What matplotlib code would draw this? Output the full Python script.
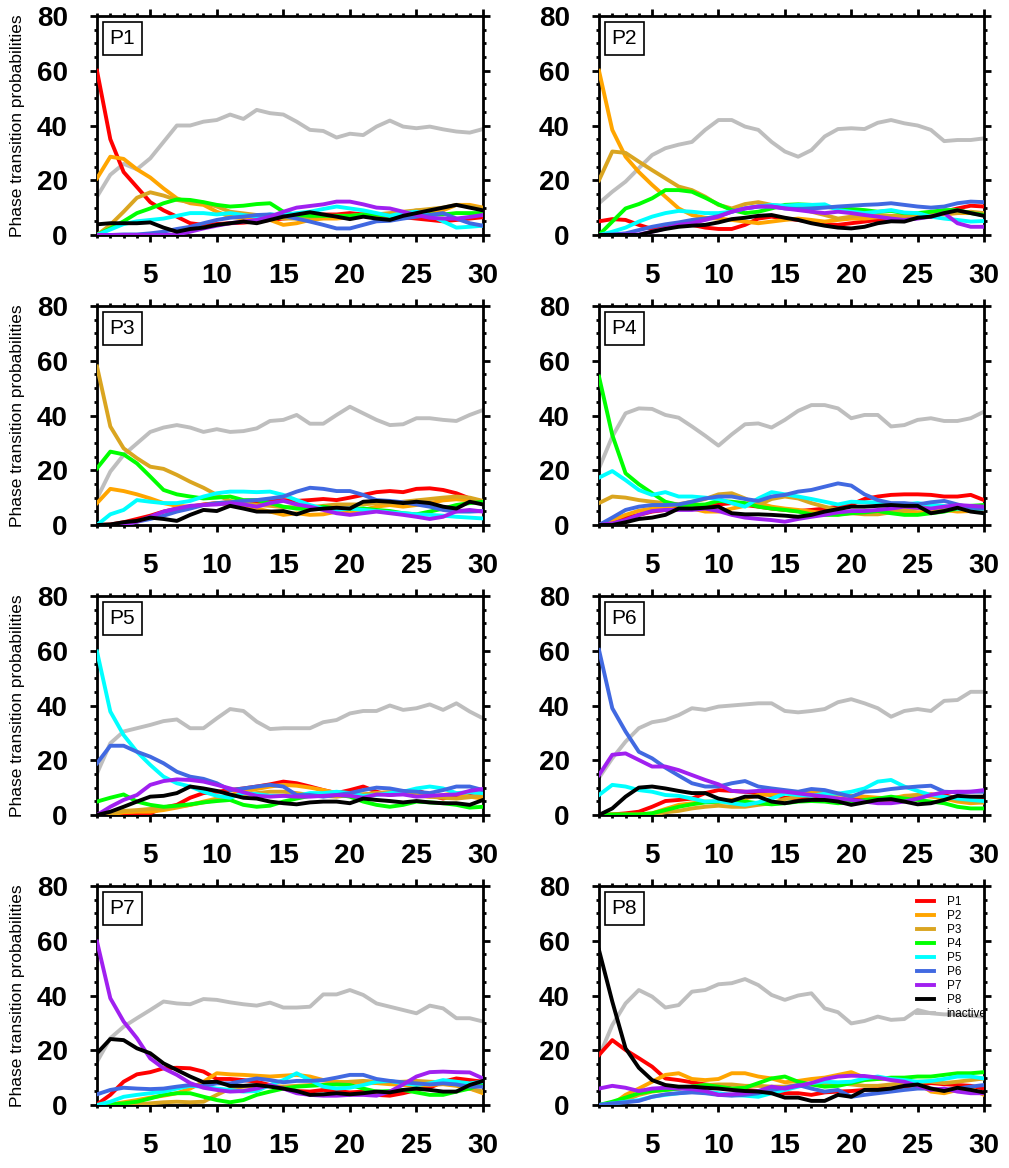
import matplotlib
matplotlib.use("Agg")
import matplotlib.pyplot as plt
from matplotlib.ticker import MultipleLocator

plt.rcParams['font.family'] = ['Liberation Sans', 'DejaVu Sans']

# jours 1..30
days = list(range(1, 31))

series_names = ["P1", "P2", "P3", "P4", "P5", "P6", "P7", "P8"]
series_colors = ["#FF0000", "#FFA500", "#DAA520", "#00FF00", "#00FFFF", "#4169E1", "#A020F0", "#000000"]
inactive_color = "#BEBEBE"

# ---- panneau P1 ----
p1_p1 = [60, 35, 23, 17.5, 12, 9, 6.7, 4.3, 3.7, 4, 4.3, 4.5, 5, 5.5, 6, 6.5, 7, 7.5, 7.5, 8, 7.5, 7, 7, 6.5, 6, 5.5, 5, 5.5, 6, 6.5]
p1_p2 = [20.7, 28.6, 27.8, 24, 21, 17, 13.4, 11.6, 11, 8.5, 6.7, 6, 6.2, 5.5, 3.7, 4.3, 5.5, 6, 6, 6.5, 7, 7, 7.5, 8, 9, 8.5, 9, 11, 11, 10]
p1_p3 = [0, 3.7, 8.5, 13.6, 15.6, 14.4, 12.8, 12, 11.8, 10.4, 8.5, 7.9, 7.3, 7.3, 6, 6, 6.5, 7, 7, 7, 7.5, 7.5, 8, 8.5, 9, 9.5, 10, 11, 10.5, 9.7]
p1_p4 = [0, 2.4, 5, 8, 9.7, 11.6, 13, 12.8, 12, 11, 10.4, 10.7, 11.3, 11.6, 8.5, 7.3, 7, 7, 7, 7, 7.5, 7.5, 7, 7.5, 8, 7.5, 7.5, 8, 8, 8]
p1_p5 = [0, 2, 4, 5, 5.5, 6, 7, 8, 8, 7.5, 8, 7.3, 6.7, 7.5, 7.3, 8, 8.5, 9.5, 10.4, 9.7, 9, 8, 7, 8, 8.5, 7.3, 5, 2.7, 3, 3.4]
p1_p6 = [0, 0, 0.2, 0.2, 0.6, 1.2, 2.2, 3, 4.3, 5.5, 6.3, 6.7, 7.3, 7.5, 7, 6, 4.9, 3.7, 2.4, 2.4, 3.7, 5, 5.2, 6, 6.7, 7.3, 8, 6, 4.3, 3.4]
p1_p7 = [0, 0, 0, 0, 0, 0, 0.2, 1.2, 2.4, 3.4, 4.3, 4.9, 5.5, 6.7, 8.5, 10, 10.6, 11.2, 12.2, 12.2, 11.2, 10, 9.7, 8.5, 7.3, 6.3, 6, 6, 6.6, 7.3]
p1_p8 = [3.9, 4.3, 4.3, 4.3, 4.6, 2.7, 1.2, 2.2, 2.7, 3.7, 4.3, 4.9, 4.3, 5.5, 6.7, 7.5, 8.3, 7.5, 6.7, 5.8, 6.7, 6, 5.5, 7, 8, 9, 10, 11, 10, 9]
p1_inactive = [14, 22, 26, 24, 28, 34, 40, 40, 41.4, 42, 44, 42.4, 45.7, 44.5, 44, 41.4, 38.4, 38, 35.6, 37, 36.5, 39.6, 41.8, 39.6, 39, 39.6, 38.6, 37.8, 37.4, 38.7]

# ---- panneau P2 ----
p2_p1 = [5, 5.8, 5.5, 3.7, 2.2, 3, 4.3, 3.7, 2.7, 2.2, 2.2, 3.7, 6, 6.7, 6, 5.5, 4.9, 3.9, 3.7, 4.3, 4.9, 5.5, 5.5, 6, 6.7, 8, 8.5, 9.7, 10.7, 10.4]
p2_p2 = [60, 38.4, 28.6, 23, 18.3, 14, 9.7, 7.3, 6.3, 6, 5.5, 4.9, 4.3, 4.9, 5.5, 6, 5.5, 4.9, 5.5, 6, 6, 6.5, 6.5, 7, 7, 7.5, 7.5, 8, 8, 8]
p2_p3 = [20, 30.5, 30, 26.8, 23.7, 20.7, 17.7, 16.4, 14, 11, 9.7, 11.3, 12, 11, 10.4, 10, 8.5, 7.3, 6, 6.7, 7.3, 7.3, 7, 7, 7.5, 7.5, 8, 8, 8.5, 8]
p2_p4 = [0, 4.9, 9.7, 11.3, 13.4, 16.4, 16.4, 15.8, 13.6, 11.2, 9.1, 8, 8.5, 9.7, 11, 11.2, 11, 10.4, 9.7, 9.5, 9.1, 8.5, 8.8, 8, 8, 8.5, 9.1, 9.1, 8, 7.3]
p2_p5 = [0, 1.2, 2.7, 4.9, 6.7, 8, 8.8, 8.5, 8, 8, 8.5, 9.7, 10.4, 11, 10.7, 11, 11, 11.2, 9.1, 8.5, 8, 8.5, 9.1, 8.2, 8, 6.7, 6, 5.5, 4.9, 5.1]
p2_p6 = [0, 0.2, 0.6, 1.8, 3, 3.9, 4.6, 5.5, 6, 6.9, 8.5, 9.7, 10.4, 10.4, 9.7, 9.5, 9.7, 10, 10.4, 10.7, 11, 11.2, 11.6, 11, 10.4, 10, 10.4, 11.6, 12.2, 12]
p2_p7 = [0, 0, 0.2, 0.2, 1.2, 2.4, 3.7, 4.3, 5.5, 6.7, 8.5, 9.7, 10.4, 10.4, 9.7, 9.1, 8.5, 8, 8.5, 8, 7.3, 6.7, 6, 5.5, 6, 6.7, 8, 4.3, 3, 3]
p2_p8 = [0, 0, 0, 0, 1.2, 2.2, 3, 3.4, 3.7, 4.6, 5.8, 6.3, 7, 7.3, 6.3, 5.5, 4.3, 3.4, 2.7, 2.4, 3, 4.3, 5, 4.9, 6.3, 6.7, 8, 9, 8, 7]
p2_inactive = [11.6, 15.8, 19.5, 24.4, 29.2, 31.7, 33, 34, 38.4, 42, 42, 39.6, 38.4, 34, 30.5, 28.6, 31, 36, 38.7, 39, 38.7, 41, 42, 40.8, 40, 38.4, 34.3, 34.7, 34.7, 35.3]

# ---- panneau P3 ----
p3_p1 = [0, 0.2, 1, 2.2, 3.4, 4.9, 6, 6.7, 7.5, 8, 8.3, 8, 8.3, 8.8, 9.1, 8.8, 9.1, 9.5, 9.1, 10, 11, 12, 12.4, 12, 13.2, 13.4, 12.8, 11.6, 9.7, 8.5]
p3_p2 = [8, 13.2, 12.4, 11.2, 9.7, 8, 7, 6.7, 7.3, 8, 7.5, 7.3, 6, 4.9, 3.7, 4.3, 3.7, 3.9, 4.9, 4.3, 5.5, 6.7, 7.3, 6.7, 7.3, 8, 9, 9.4, 9, 8.5]
p3_p3 = [57.9, 36, 28, 24.4, 21.3, 20.5, 18.3, 15.8, 13.6, 11, 8.8, 8, 7.3, 7, 6.5, 6.5, 6.5, 7, 7.5, 7.5, 7.5, 8, 8, 8.5, 9, 9.5, 10, 10.4, 10, 8.8]
p3_p4 = [20.7, 26.8, 25.8, 22.5, 17.7, 12.8, 11.2, 10.4, 9.7, 10, 10.4, 9.1, 9.1, 8, 6.7, 6, 5.8, 6.7, 6, 5.8, 6, 5.5, 5.1, 4.3, 3.9, 4.9, 6, 7.3, 8, 8.5]
p3_p5 = [0, 3.9, 5.5, 9.1, 8.5, 8, 8, 8.8, 10.4, 11.6, 12.2, 12.2, 12, 12.2, 11, 9.1, 7.3, 6, 5.5, 6, 5.5, 5.1, 4.6, 4.3, 3.9, 3.7, 3.4, 3, 2.7, 2.4]
p3_p6 = [0, 0, 0.2, 1.2, 2.2, 3.4, 4.9, 6, 7.3, 8, 8.3, 8.8, 9.1, 9.7, 10.4, 12.2, 13.6, 13.2, 12.4, 12.4, 11, 9.1, 8.8, 8.3, 7.5, 6.7, 5.5, 4.9, 4.9, 5.1]
p3_p7 = [0, 0, 0.2, 1.2, 3, 4.9, 6, 7, 7.3, 7.5, 8, 7.5, 6.7, 8, 8.8, 7.5, 6.7, 5.5, 4.3, 3.7, 4.3, 4.9, 4.3, 3.7, 3, 2.2, 3, 5, 5.5, 4.9]
p3_p8 = [0, 0.2, 1, 1.5, 2.7, 2.2, 1.5, 3.7, 5.5, 5.1, 7, 6, 4.9, 4.9, 5.1, 3.9, 5.5, 6, 6.3, 6, 8.5, 8.8, 8.5, 8, 8.5, 8, 6.7, 6, 8.5, 7.5]
p3_inactive = [9.7, 19.5, 25.6, 29.8, 34, 35.6, 36.5, 35.6, 34, 35, 34, 34.3, 35.3, 38, 38.4, 40.2, 37, 37, 40.2, 43.2, 40.8, 38.4, 36.5, 36.8, 39, 39, 38.4, 38, 40.2, 42]

# ---- panneau P4 ----
p4_p1 = [0, 1.2, 2.7, 3.7, 4.9, 5.5, 6, 6.7, 7.3, 7.5, 8, 7.3, 6.7, 6, 5.5, 5.1, 5.5, 6, 6.7, 7.5, 9.5, 10.4, 11, 11.2, 11.2, 11, 10.4, 10.4, 11, 9.1]
p4_p2 = [0, 1.8, 3.7, 5.2, 6, 6.7, 7.3, 6, 4.9, 4.9, 6, 7, 8, 6.7, 6, 5.5, 4.9, 4.3, 3.9, 4.3, 4.9, 5.1, 5.5, 4.9, 4.6, 5.1, 5.5, 4.9, 5.1, 5.5]
p4_p3 = [8, 10.4, 10, 9.1, 8.5, 8, 7.6, 8.5, 9.5, 11.2, 11.6, 9.7, 7.3, 9.5, 10.4, 9.7, 8, 6.7, 5.5, 4.3, 3.9, 3.9, 4.6, 5.5, 6, 6.7, 6, 5.5, 6, 5.8]
p4_p4 = [54.2, 32.9, 18.9, 14.9, 11.6, 8.5, 7.3, 7.3, 7.5, 8.8, 8.5, 8, 6.7, 6, 5.5, 4.9, 3.9, 3.7, 3.7, 4.3, 4.6, 5.1, 4.3, 3.7, 3.7, 4.3, 4.9, 6, 7, 7.3]
p4_p5 = [17.3, 19.7, 16.4, 12.8, 11, 12, 10.4, 10.4, 10, 9.5, 8, 6.7, 9.7, 12, 11.2, 10.4, 9.5, 8.5, 7.5, 8.5, 8.3, 8.3, 7.5, 7.5, 8, 7.3, 7, 6, 5.8, 6]
p4_p6 = [0, 2.7, 5.5, 6.7, 7.3, 7.3, 7.5, 8.5, 9.7, 10.4, 10.4, 9.5, 8.8, 10.4, 11, 12.2, 12.8, 14, 15.2, 14.4, 11.2, 9.1, 8, 8, 7.5, 8.3, 8.8, 7.5, 6.3, 6]
p4_p7 = [0, 0.6, 1.8, 3.7, 5.1, 5.5, 5.5, 5.5, 6, 5.1, 3.7, 2.7, 2.2, 1.8, 1.2, 2.2, 3, 3.7, 4.6, 5.1, 5.1, 5.5, 6, 6.7, 6.3, 6, 6.7, 7.3, 7, 6.7]
p4_p8 = [0, 0, 1, 2.2, 2.7, 3.7, 6, 6, 6.3, 6.7, 4.3, 3.9, 3.9, 3.7, 3.4, 3, 3.7, 4.9, 5.8, 6.7, 6.7, 7, 7.3, 7, 7, 4.3, 5.1, 6.3, 4.9, 4.3]
p4_inactive = [20.7, 32.3, 40.8, 42.6, 42.4, 40.2, 39.2, 36, 32.6, 29, 33.1, 36.8, 37.1, 35.6, 38.4, 41.7, 43.8, 43.8, 42.6, 39, 40.2, 40.2, 36, 36.5, 38.4, 39, 38, 38, 39, 41.4]

# ---- panneau P5 ----
p5_p1 = [0, 0.2, 0.2, 0.5, 0.6, 2.7, 3.7, 6.3, 8, 8.5, 9.1, 9.7, 10.4, 11.2, 12.2, 11.6, 10.4, 9.1, 8, 9.1, 10.4, 8.5, 7.3, 8, 9.1, 7.3, 6, 7.3, 8, 8.5]
p5_p2 = [0, 0.2, 1, 1.2, 1.2, 1.8, 2.7, 3.7, 4.9, 6, 7.3, 8.5, 9.5, 10.4, 11, 10.7, 10, 9.1, 8, 7.3, 7.5, 8, 8.3, 8, 7.3, 6.7, 7.3, 8, 6.7, 6]
p5_p3 = [0, 0.6, 1.5, 1.8, 2.2, 2.4, 3, 3.7, 4.6, 5.5, 6.7, 7.3, 8, 8.5, 8.5, 8, 7.3, 7, 6.7, 7.3, 7.5, 8, 8.3, 8, 7, 6.7, 6.3, 6, 6.5, 7.3]
p5_p4 = [4.9, 6.3, 7.5, 4.9, 3.7, 3, 3.4, 3.9, 4.6, 5.1, 5.5, 3.7, 3, 3.4, 4.9, 6, 7, 7.3, 7.5, 6.7, 4.9, 3.7, 3, 3.7, 4.9, 4.6, 4.3, 3.7, 2.7, 3]
p5_p5 = [59.7, 37.8, 29.2, 23.1, 18.3, 14, 11.6, 10.4, 8.5, 7, 6.3, 8, 7.6, 7, 7, 7, 8, 8, 8.5, 8, 7, 7.3, 8, 8.5, 9.7, 10.4, 9.7, 8, 8.3, 8]
p5_p6 = [18.9, 25.3, 25.3, 23.1, 21.3, 18.9, 15.8, 14, 13.2, 11.6, 9.1, 9.7, 10.4, 11, 10.4, 7.3, 7.3, 6.7, 7.3, 8, 9.1, 10, 9.7, 8.8, 8.5, 8, 9.1, 10.4, 10.4, 9.1]
p5_p7 = [0, 3, 5.5, 7.3, 11, 12.4, 13, 12.8, 12.2, 11, 9.7, 8.3, 7, 6.7, 7, 6.7, 6.7, 7, 7.3, 7, 6.3, 7.5, 7.3, 7.5, 6.7, 7, 7.3, 7.5, 8.8, 9.5]
p5_p8 = [0, 1.2, 3, 4.9, 6.7, 7, 8, 10.4, 9.7, 8.8, 7.5, 6.3, 6, 4.9, 4.3, 3.9, 4.6, 4.9, 4.9, 4.3, 6, 5.5, 5.1, 4.6, 5.1, 4.6, 4.3, 4.3, 3.7, 5.5]
p5_inactive = [15.2, 26.2, 30.5, 31.7, 32.9, 34.3, 34.9, 31.7, 31.7, 35.3, 38.7, 38, 34.1, 31.4, 31.7, 31.7, 31.7, 33.9, 34.7, 37.1, 38, 38, 40, 38.4, 39, 40.4, 38.4, 40.8, 37.8, 35.3]

# ---- panneau P6 ----
p6_p1 = [0, 0.2, 0.6, 1.2, 3, 5.1, 5.5, 6, 8, 9.1, 8.8, 8.5, 8, 7.3, 6.3, 6, 6.7, 7, 6, 5.5, 6, 5.1, 4.9, 6, 6.7, 7.5, 7.3, 6, 6, 5.5]
p6_p2 = [0, 0.2, 0.2, 0.2, 0.6, 2.2, 3.7, 4.3, 4.9, 4.9, 5.5, 6, 7.3, 7.5, 8, 8.3, 8.5, 8, 7.5, 7, 6.7, 6.3, 6, 7, 7.3, 6.7, 6, 4.9, 4.3, 4.6]
p6_p3 = [0, 0, 0, 0, 0, 1, 1.5, 2.4, 3, 3.4, 3, 3, 3.7, 4.3, 5.8, 6.7, 7.5, 7.3, 6, 5.1, 4.9, 5.1, 5.8, 6.7, 7.3, 7.5, 6.3, 5.5, 4.9, 4.6]
p6_p4 = [0, 0.2, 0.2, 0.2, 0.6, 1.8, 3, 3.9, 4.6, 4.9, 5.1, 4.9, 4.3, 3.9, 4.3, 4.9, 5.1, 4.9, 4.3, 4.6, 5.5, 6, 6.7, 6, 5.5, 4.9, 4.3, 3, 2.4, 2.4]
p6_p5 = [7.3, 11, 10.4, 9.1, 8.5, 7.3, 7, 6, 4.9, 5.1, 4.3, 3.7, 4.6, 6, 7.8, 7.3, 7, 7.8, 7.8, 8.5, 9.7, 12.2, 12.8, 10.4, 8.8, 7.3, 6.7, 6, 5.5, 5.1]
p6_p6 = [60.3, 39, 30.5, 23.1, 20.7, 17.3, 14.4, 11.6, 10.4, 10.4, 11.6, 12.4, 10.4, 9.7, 9.1, 8.5, 9.5, 9.1, 7.9, 6.7, 8.5, 8.8, 9.5, 10, 10.4, 10.7, 8.5, 8.3, 8.5, 8.5]
p6_p7 = [14.6, 22, 22.5, 20.1, 17.7, 17.7, 16.4, 14.6, 12.8, 11.2, 8.8, 8.5, 8.8, 8.8, 8.5, 7.9, 7.3, 6.7, 6, 5.5, 4.9, 4.3, 4.3, 4.9, 6, 7.3, 8.3, 8.5, 8.5, 9.1]
p6_p8 = [0, 2.4, 6.7, 10, 10.4, 9.7, 8.8, 8, 8, 6, 5.1, 6.7, 6.7, 4.9, 4.3, 5.1, 5.5, 5.5, 4.9, 3.7, 4.6, 5.5, 5.8, 4.9, 3.9, 4.3, 5.5, 7, 6.7, 6.7]
p6_inactive = [13.6, 20.7, 26.8, 31.7, 33.9, 34.7, 36.5, 39, 38.4, 39.6, 40, 40.4, 40.8, 40.8, 38, 37.5, 38, 38.7, 41.2, 42.3, 40.8, 39, 35.9, 38, 38.7, 38, 41.7, 42, 45, 45]

# ---- panneau P7 ----
p7_p1 = [0.2, 3.7, 8.5, 11.2, 12, 13.4, 13.6, 13.4, 12.2, 9.5, 9.5, 9.1, 8.5, 7.3, 6, 5.1, 4.9, 5.5, 5.1, 4.6, 4.9, 3.7, 3.4, 4.3, 5.5, 6.3, 8.5, 9.7, 9.1, 8.5]
p7_p2 = [0, 0.2, 1, 1.8, 2.7, 3.4, 4.3, 6, 8.5, 11.6, 11.2, 11, 10.7, 10.4, 10.7, 11, 10.4, 9.1, 8.5, 8.3, 8, 8, 7.6, 7.3, 7, 7.3, 7.6, 7, 6, 4.3]
p7_p3 = [0, 0.2, 0.2, 0.2, 0.6, 1, 1.2, 1, 1.2, 3.7, 6, 6.7, 7, 7, 6.7, 7, 7.3, 7.5, 8, 8.5, 8.8, 8.5, 8.3, 8.5, 8.8, 8.5, 8.3, 7.3, 6, 4.9]
p7_p4 = [0, 0.2, 0.6, 1.2, 2.4, 3.7, 4.3, 4.3, 3, 1.8, 1, 1.8, 3.7, 4.9, 6, 6.7, 7, 7.3, 7.5, 7.3, 6, 4.9, 5.1, 5.5, 4.6, 3.7, 3.7, 4.9, 6, 7.9]
p7_p5 = [0, 1.2, 3, 3.7, 4.3, 4.9, 6, 7, 6.7, 6, 5.5, 4.9, 5.1, 7.3, 9.1, 11.6, 9.1, 6.7, 6, 6.3, 7.3, 8.5, 8.8, 7.9, 7.3, 7.9, 9.1, 8.5, 7.9, 8.5]
p7_p6 = [3.9, 5.5, 6.3, 6, 5.8, 6, 6.7, 7.3, 7, 7.9, 7.9, 8.8, 9.7, 9.1, 8.3, 8.8, 8.8, 9.1, 10, 11, 11, 9.5, 8.8, 8.3, 7.9, 7.5, 7.9, 7.5, 6.7, 6.7]
p7_p7 = [59.7, 39, 30.5, 24.4, 17, 13.4, 11, 8, 6.3, 5.5, 4.9, 5.1, 6, 7.3, 6, 4.3, 3.7, 3.4, 3.4, 3.7, 3.7, 3.4, 4.9, 7.5, 10.4, 12, 12.2, 12, 11.9, 9.7]
p7_p8 = [18.9, 24.1, 23.7, 20.7, 18.9, 15.2, 12.8, 10.4, 8.3, 8.5, 7, 7, 7.3, 6.7, 6, 5.1, 3.7, 3.9, 4.3, 3.9, 4.3, 4.9, 4.6, 5.5, 6, 5.5, 4.9, 4.9, 7.3, 8.8]
p7_inactive = [15.8, 24.4, 28.6, 31.7, 34.7, 37.8, 37.1, 36.8, 38.7, 38.4, 37.5, 36.8, 36.3, 37.4, 35.6, 35.6, 35.9, 40.4, 40.4, 42, 40.2, 37.1, 35.9, 34.7, 33.5, 36.3, 35.3, 31.7, 31.7, 30.5]

# ---- panneau P8 ----
p8_p1 = [18.3, 23.7, 20.1, 17.1, 14, 9.7, 9.1, 8.3, 7.5, 7, 6, 5.5, 5.1, 4.9, 4.3, 4.3, 3.7, 4.6, 4.9, 5.1, 5.5, 6, 6, 6.7, 7.3, 8, 7.6, 7.3, 7, 6]
p8_p2 = [0, 0.2, 3.7, 6, 8.5, 11, 11.6, 9.5, 9.1, 9.5, 11.6, 11.6, 10.4, 9.7, 8.3, 8.8, 9.5, 10, 11, 12, 10, 9.5, 9.7, 9.1, 8, 4.9, 4.3, 5.5, 6, 3.7]
p8_p3 = [0, 0.6, 1.8, 3.7, 4.9, 5.5, 6, 6.7, 7.3, 7.5, 7.5, 7, 7, 6.7, 6.7, 7.3, 7.5, 8, 8, 7.5, 7, 7, 7.5, 8, 8.5, 8.5, 8, 8.5, 9.1, 9.7]
p8_p4 = [0, 1.2, 2.7, 4.3, 5.1, 5.5, 6, 6.7, 7.3, 6.7, 6, 6.3, 8, 9.7, 10.4, 8.5, 7.5, 6.7, 7, 8, 9.1, 9.5, 10, 10, 10.4, 10.4, 11, 11.6, 11.6, 12]
p8_p5 = [0, 0.6, 1.2, 1.8, 3, 3.7, 4.3, 4.9, 4.9, 4.3, 3.7, 3.4, 3, 4.3, 5.5, 6.7, 8, 8.5, 8.3, 8.5, 9.7, 10.4, 9.5, 9.1, 8.5, 8.8, 9.5, 10.4, 10.4, 9.7]
p8_p6 = [0, 0.6, 1, 1.5, 3, 3.9, 4.3, 4.6, 4.3, 3.7, 3.4, 3.7, 4.3, 5.5, 6.3, 7.3, 6, 4.9, 5.5, 3, 3.7, 4.3, 4.9, 5.5, 6, 6, 5.5, 6, 6.7, 7.3]
p8_p7 = [6, 7, 6.3, 5.1, 6, 6.3, 6, 5.8, 5.1, 3.7, 3.9, 4.3, 5.1, 6.7, 6, 7, 8, 9.5, 10.4, 10.7, 10.6, 10, 9.1, 8.5, 7, 5.5, 6, 4.9, 4.3, 4.3]
p8_p8 = [56.6, 37.8, 20.7, 13.6, 9.1, 7.3, 6.7, 6.7, 6.3, 6, 5.5, 5.1, 4.9, 4.3, 2.7, 2.7, 1.5, 1.5, 3.7, 3, 5.5, 5.5, 6, 7, 7.5, 6, 5.1, 6.3, 5.5, 4.6]
p8_inactive = [17.7, 29.2, 37.1, 42, 39.6, 35.6, 36.5, 41.4, 42, 44.1, 44.5, 46, 43.8, 40.2, 38.4, 40, 40.8, 35.3, 33.9, 29.8, 30.7, 32.3, 31.1, 31.4, 34.7, 33.5, 33.1, 33.1, 32.6, 32.3]

panels = [
    ("P1", [p1_p1, p1_p2, p1_p3, p1_p4, p1_p5, p1_p6, p1_p7, p1_p8], p1_inactive),
    ("P2", [p2_p1, p2_p2, p2_p3, p2_p4, p2_p5, p2_p6, p2_p7, p2_p8], p2_inactive),
    ("P3", [p3_p1, p3_p2, p3_p3, p3_p4, p3_p5, p3_p6, p3_p7, p3_p8], p3_inactive),
    ("P4", [p4_p1, p4_p2, p4_p3, p4_p4, p4_p5, p4_p6, p4_p7, p4_p8], p4_inactive),
    ("P5", [p5_p1, p5_p2, p5_p3, p5_p4, p5_p5, p5_p6, p5_p7, p5_p8], p5_inactive),
    ("P6", [p6_p1, p6_p2, p6_p3, p6_p4, p6_p5, p6_p6, p6_p7, p6_p8], p6_inactive),
    ("P7", [p7_p1, p7_p2, p7_p3, p7_p4, p7_p5, p7_p6, p7_p7, p7_p8], p7_inactive),
    ("P8", [p8_p1, p8_p2, p8_p3, p8_p4, p8_p5, p8_p6, p8_p7, p8_p8], p8_inactive),
]

W, H = 1009, 1168
fig = plt.figure(figsize=(W / 100, H / 100), dpi=100)

col_left = [97, 599]
col_width = [386, 385]
row_top = [16, 306, 596, 886]
ax_h = 219

for k, (name, lines, inactive) in enumerate(panels):
    r, c = divmod(k, 2)
    left = col_left[c] / W
    bottom = 1 - (row_top[r] + ax_h) / H
    ax = fig.add_axes([left, bottom, col_width[c] / W, ax_h / H])

    ax.plot(days, inactive, color=inactive_color, lw=2.8, label="inactive", zorder=2)
    handles = []
    for vals, lab, col in zip(lines, series_names, series_colors):
        h, = ax.plot(days, vals, color=col, lw=2.8, label=lab, zorder=3)
        handles.append(h)
    handles.append(ax.lines[0])

    ax.set_xlim(1, 30)
    ax.set_ylim(0, 80)
    ax.xaxis.set_major_locator(MultipleLocator(5))
    ax.xaxis.set_minor_locator(MultipleLocator(1))
    ax.yaxis.set_major_locator(MultipleLocator(20))
    ax.yaxis.set_minor_locator(MultipleLocator(5))
    ax.tick_params(which="both", direction="out", top=True, right=True, width=2)
    ax.tick_params(which="major", length=5, labelsize=20)
    ax.tick_params(which="minor", length=2.5)
    ax.tick_params(axis="x", which="major", pad=15)
    ax.tick_params(axis="y", which="major", pad=16)
    for lbl in ax.get_xticklabels() + ax.get_yticklabels():
        lbl.set_fontweight("bold")
    for s in ax.spines.values():
        s.set_linewidth(2)

    ax.text(0.066, 0.897, name, transform=ax.transAxes, ha="center", va="center",
            fontsize=15, zorder=5,
            bbox=dict(boxstyle="square,pad=0.32", fc="white", ec="black", lw=1.2))

    if c == 0:
        yc = 1 - (row_top[r] + ax_h / 2) / H
        fig.text(18 / W, yc, "Phase transition probabilities", rotation=90,
                 ha="center", va="center", fontsize=12.5)

    if name == "P8":
        ax.legend(handles=handles, loc="upper left", bbox_to_anchor=(0.826, 0.955),
                  frameon=False, fontsize=8.5, handlelength=1.4, handletextpad=1.1,
                  labelspacing=0.17, borderpad=0, borderaxespad=0)

fig.savefig("out.png", dpi=100)
